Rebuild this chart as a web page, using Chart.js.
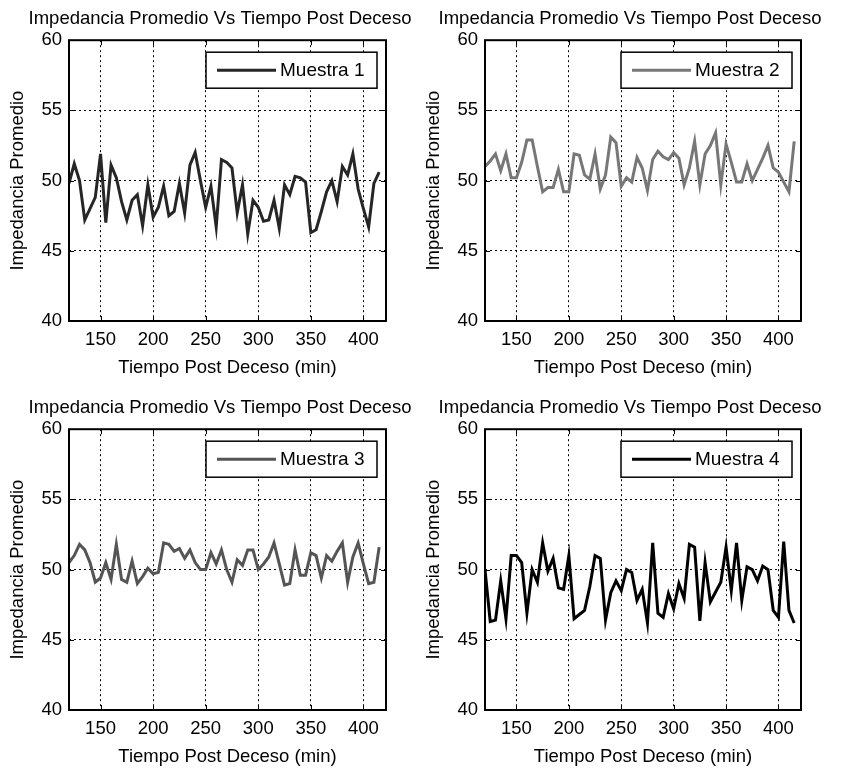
<!DOCTYPE html>
<html>
<head>
<meta charset="utf-8">
<script src="https://cdn.jsdelivr.net/npm/chart.js@4.4.1/dist/chart.umd.min.js"></script>
<style>
  html, body { margin: 0; padding: 0; background: #fff; overflow: hidden; }
  canvas { position: absolute; }
</style>
</head>
<body>
<canvas id="c1" width="440" height="384" style="left:0px;top:0px"></canvas>
<canvas id="c2" width="428" height="384" style="left:416px;top:0px"></canvas>
<canvas id="c3" width="440" height="384" style="left:0px;top:389px"></canvas>
<canvas id="c4" width="428" height="384" style="left:416px;top:389px"></canvas>
<script>
// tiempo post deceso (min)
const tiempos = [120, 125, 130, 135, 140, 145, 150, 155, 160, 165, 170, 175, 180, 185, 190, 195, 200, 205, 210, 215,
                 220, 225, 230, 235, 240, 245, 250, 255, 260, 265, 270, 275, 280, 285, 290, 295, 300, 305, 310, 315,
                 320, 325, 330, 335, 340, 345, 350, 355, 360, 365, 370, 375, 380, 385, 390, 395, 400, 405, 410, 415];

const muestra1 = [49.8, 51.2, 50.0, 47.2, 48.0, 48.8, 51.9, 47.0, 51.1, 50.2, 48.5, 47.2, 48.6, 49.0, 46.8, 49.7, 47.4, 48.1, 49.6, 47.5,
                  47.8, 49.8, 47.7, 51.1, 52.0, 50.0, 48.1, 49.6, 46.7, 51.5, 51.3, 50.9, 47.7, 49.7, 46.2, 48.6, 48.1, 47.1, 47.2, 48.6,
                  46.6, 49.7, 49.0, 50.3, 50.2, 49.9, 46.3, 46.5, 47.8, 49.2, 50.0, 48.5, 51.0, 50.4, 51.9, 49.4, 48.0, 46.7, 49.8, 50.6];
const muestra2 = [51.0, 51.4, 51.9, 50.7, 51.9, 50.2, 50.2, 51.3, 52.9, 52.9, 51.0, 49.2, 49.5, 49.5, 50.8, 49.2, 49.2, 51.9, 51.8, 50.4,
                  50.1, 51.9, 49.4, 50.4, 53.1, 52.7, 49.6, 50.2, 49.9, 51.65, 50.9, 49.3, 51.5, 52.1, 51.7, 51.5, 52.0, 51.6, 49.7, 50.9,
                  52.8, 49.7, 51.9, 52.5, 53.4, 49.7, 52.6, 51.3, 49.9, 49.9, 51.2, 50.0, 50.8, 51.6, 52.5, 50.9, 50.6, 49.9, 49.2, 52.8];
const muestra3 = [50.5, 51.0, 51.8, 51.4, 50.5, 49.1, 49.4, 50.5, 49.3, 51.8, 49.3, 49.1, 50.6, 49.0, 49.5, 50.1, 49.7, 49.8, 51.9, 51.8,
                  51.3, 51.5, 50.8, 51.4, 50.5, 50.0, 50.0, 51.2, 50.4, 51.4, 50.0, 49.1, 50.7, 50.3, 51.4, 51.4, 50.0, 50.4, 50.9, 51.9,
                  50.4, 48.9, 49.0, 51.4, 49.6, 49.6, 51.2, 51.0, 49.4, 51.0, 50.6, 51.3, 51.9, 49.1, 50.9, 51.9, 50.4, 49.0, 49.1, 51.6];
const muestra4 = [50.0, 46.3, 46.4, 49.2, 46.5, 51.0, 51.0, 50.5, 46.9, 50.0, 49.1, 51.9, 49.9, 50.8, 48.7, 48.6, 51.0, 46.5, 46.8, 47.1,
                  48.8, 51.0, 50.8, 46.4, 48.35, 49.2, 48.5, 50.0, 49.8, 47.8, 48.6, 46.2, 51.9, 46.9, 46.6, 48.3, 47.2, 49.0, 47.95, 51.8,
                  51.6, 46.35, 50.5, 47.7, 48.4, 49.1, 51.6, 48.5, 51.9, 47.8, 50.2, 50.0, 49.2, 50.25, 50.0, 47.1, 46.6, 52.0, 47.1, 46.2];

const xTicks = [150, 200, 250, 300, 350, 400];
const yTicks = [40, 45, 50, 55, 60];

const titulo = 'Impedancia Promedio Vs Tiempo Post Deceso';
const tituloX = 'Tiempo Post Deceso (min)';
const tituloY = 'Impedancia Promedio';
const fuente = '"Liberation Sans", Arial, Helvetica, sans-serif';

// caja de ejes estilo matlab + leyenda dentro del grafico
const cajaMatlab = {
    id: 'cajaMatlab',
    afterDatasetsDraw(chart) {
        const ctx = chart.ctx;
        const a = chart.chartArea;
        const sx = chart.scales.x, sy = chart.scales.y;
        ctx.save();
        ctx.strokeStyle = '#000';
        ctx.lineWidth = 1;
        ctx.setLineDash([]);
        ctx.beginPath();
        xTicks.forEach(v => {
            const px = Math.round(sx.getPixelForValue(v)) + 0.5;
            ctx.moveTo(px, a.top); ctx.lineTo(px, a.top + 5);
            ctx.moveTo(px, a.bottom); ctx.lineTo(px, a.bottom - 5);
        });
        yTicks.forEach(v => {
            const py = Math.round(sy.getPixelForValue(v)) + 0.5;
            ctx.moveTo(a.left, py); ctx.lineTo(a.left + 5, py);
            ctx.moveTo(a.right, py); ctx.lineTo(a.right - 5, py);
        });
        ctx.stroke();

        ctx.lineWidth = 2;
        ctx.strokeRect(a.left, a.top, a.right - a.left, a.bottom - a.top);

        // leyenda
        const ds = chart.data.datasets[0];
        const bw = 171, bh = 36;
        const bx = a.right - 9 - bw, by = a.top + 12;
        ctx.fillStyle = '#fff';
        ctx.fillRect(bx, by, bw, bh);
        ctx.lineWidth = 1.5;
        ctx.strokeRect(bx, by, bw, bh);
        ctx.strokeStyle = ds.borderColor;
        ctx.lineWidth = ds.borderWidth;
        ctx.beginPath();
        ctx.moveTo(bx + 11, by + bh / 2);
        ctx.lineTo(bx + 70, by + bh / 2);
        ctx.stroke();
        ctx.fillStyle = '#000';
        ctx.font = '19px ' + fuente;
        ctx.textAlign = 'left';
        ctx.textBaseline = 'middle';
        ctx.fillText(ds.label, bx + 74, by + bh / 2 + 1);
        ctx.restore();
    }
};

function grafico(id, serie, nombre, color, derecha) {
    return new Chart(document.getElementById(id), {
        type: 'line',
        data: {
            datasets: [{
                label: nombre,
                data: tiempos.map((t, i) => ({x: t, y: serie[i]})),
                borderColor: color,
                borderWidth: 3,
                pointRadius: 0,
                tension: 0,
                fill: false
            }]
        },
        options: {
            responsive: false,
            animation: false,
            events: [],
            layout: {padding: 0},
            plugins: {
                legend: {display: false},
                tooltip: {enabled: false},
                title: {
                    display: true,
                    text: titulo,
                    color: '#000',
                    font: {family: fuente, size: 18.5, weight: 'normal'},
                    padding: {top: 8, bottom: 10}
                }
            },
            scales: {
                x: {
                    type: 'linear',
                    min: 120,
                    max: 421.5,
                    afterBuildTicks: s => { s.ticks = xTicks.map(v => ({value: v})); },
                    afterFit: s => { s.height = 63; },
                    grid: {color: '#000', lineWidth: 1, drawTicks: false},
                    border: {display: false, dash: [2, 3]},
                    ticks: {color: '#000', padding: 8, maxRotation: 0, font: {family: fuente, size: 18.5}},
                    title: {display: true, text: tituloX, color: '#000', padding: {top: 0, bottom: 5},
                            font: {family: fuente, size: 18.5}}
                },
                y: {
                    type: 'linear',
                    min: 40,
                    max: 60,
                    afterBuildTicks: s => { s.ticks = yTicks.map(v => ({value: v})); },
                    afterFit: s => { s.width = 69; },
                    grid: {color: '#000', lineWidth: 1, drawTicks: false},
                    border: {display: false, dash: [2, 3]},
                    ticks: {color: '#000', padding: 7, font: {family: fuente, size: 18.5}},
                    title: {display: true, text: tituloY, color: '#000', padding: {top: 7, bottom: 0},
                            font: {family: fuente, size: 18.5}}
                },
                // eje vacio a la derecha: deja el margen y mantiene el titulo centrado en el lienzo
                margen: {
                    type: 'linear',
                    position: 'right',
                    display: true,
                    afterFit: s => { s.width = derecha; },
                    grid: {display: false, drawTicks: false},
                    border: {display: false},
                    ticks: {display: false}
                }
            }
        },
        plugins: [cajaMatlab]
    });
}

grafico('c1', muestra1, 'Muestra 1', '#262626', 54);
grafico('c2', muestra2, 'Muestra 2', '#777777', 43);
grafico('c3', muestra3, 'Muestra 3', '#555555', 54);
grafico('c4', muestra4, 'Muestra 4', '#000000', 43);
</script>
</body>
</html>
